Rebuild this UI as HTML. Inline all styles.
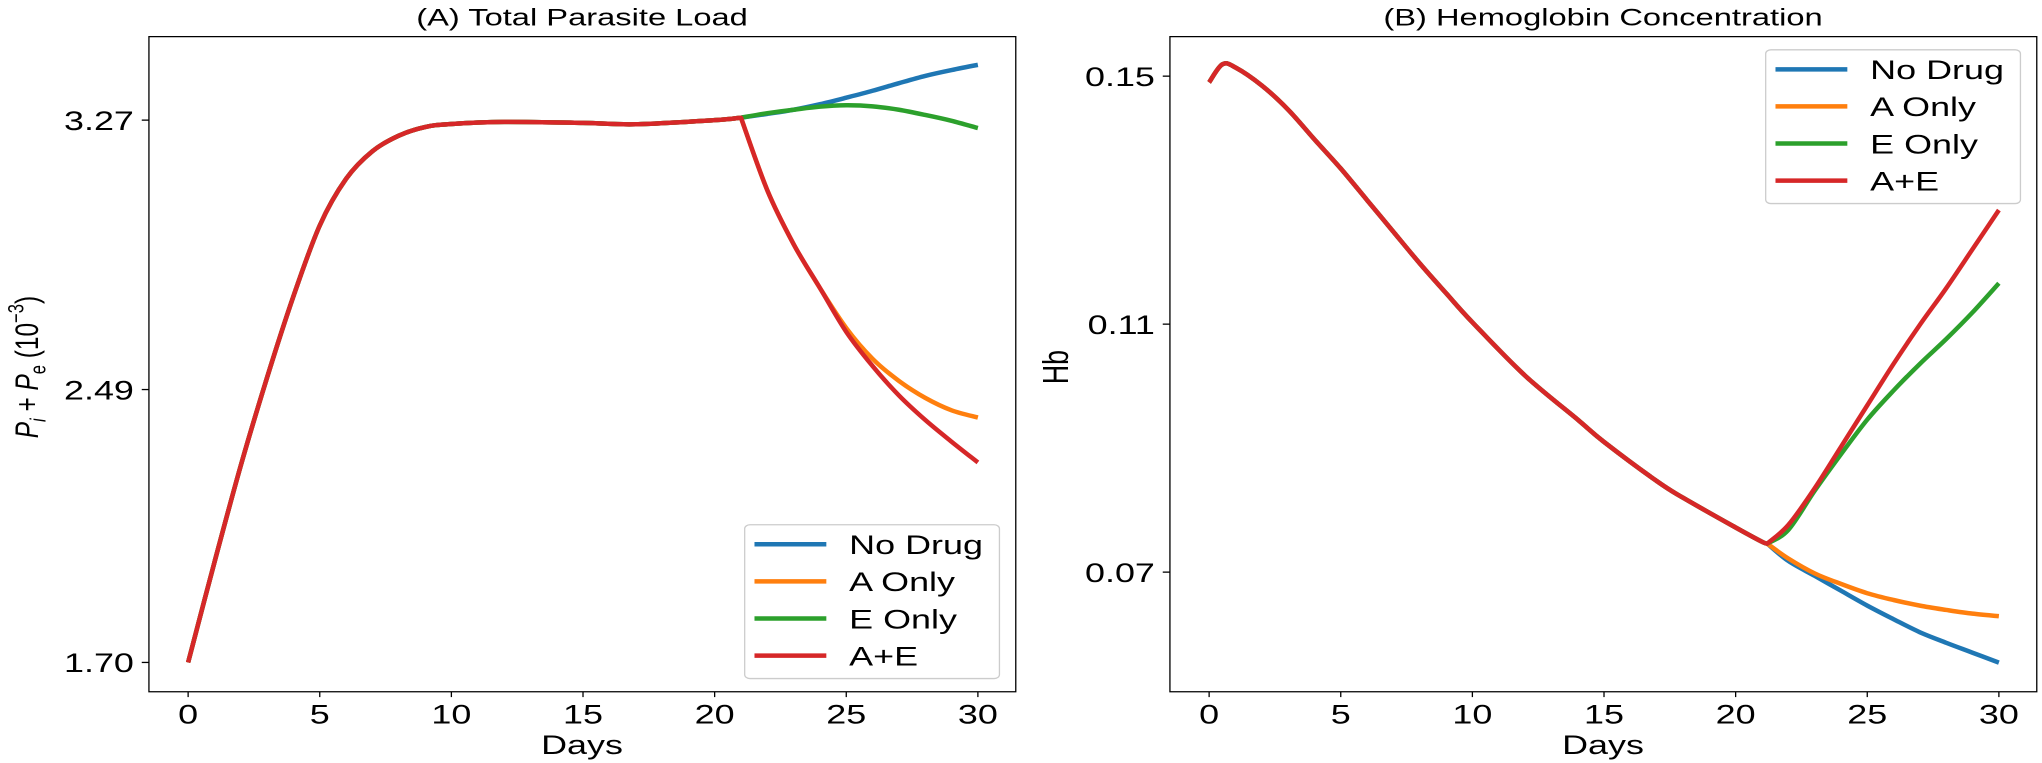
<!DOCTYPE html>
<html><head><meta charset="utf-8"><style>body{margin:0;background:#fff}svg{display:block}</style></head>
<body>
<svg id="fig" width="2042" height="763" viewBox="0 0 3126 1563" preserveAspectRatio="none" xmlns="http://www.w3.org/2000/svg" font-family="'Liberation Sans','DejaVu Sans',sans-serif"></svg>
<script>
const days=[0,1,2,3,4,5,6,7,8,9,10,12,15,17,20,21];
const loadCommon=[1.70,1.99,2.27,2.525,2.76,2.965,3.10,3.18,3.225,3.25,3.259,3.265,3.262,3.258,3.270,3.277];
const postDays=[21,22,23,24,25,26,27,28,29,30];
const loadNoDrug=[3.277,3.288,3.30,3.316,3.335,3.355,3.377,3.398,3.415,3.43];
const loadAOnly=[3.277,3.067,2.911,2.784,2.668,2.579,2.515,2.466,2.43,2.409];
const loadEOnly=[3.277,3.290,3.30,3.309,3.313,3.310,3.30,3.285,3.268,3.247];
const loadAE=[3.277,3.067,2.911,2.784,2.657,2.558,2.473,2.402,2.339,2.279];
const hbDays=[0,0.5,1,2,3,4,5,6,7,8,9,10,12,14,15,17,18,20,21,21.2];
const hbCommon=[0.149,0.1519,0.1514,0.1485,0.1446,0.1398,0.1351,0.130,0.1249,0.1198,0.115,0.1103,0.1017,0.0946,0.0910,0.0847,0.082,0.0772,0.0749,0.0746];
const hbPostDays=[21.2,22,23,24,25,26,27,28,29,30];
const hbNoDrug=[0.0746,0.0718,0.0694,0.0670,0.0646,0.0624,0.0603,0.0586,0.0570,0.0554];
const hbAOnly=[0.0746,0.0722,0.0698,0.0681,0.0666,0.0655,0.0646,0.0639,0.0633,0.0629];
const hbEOnly=[0.0746,0.0768,0.0831,0.089,0.0946,0.0993,0.1036,0.1076,0.1119,0.1166];
const hbAE=[0.0746,0.0776,0.0835,0.0902,0.0969,0.1036,0.1099,0.1158,0.1221,0.1284];
const xTicks=[0,5,10,15,20,25,30];
const loadTicks=[1.70,2.49,3.27];
const hbTicks=[0.07,0.11,0.15];
const names=['No Drug','A Only','E Only','A+E'];
const colors=['#1f77b4','#ff7f0e','#2ca02c','#d62728'];
const NS='http://www.w3.org/2000/svg';
const svg=document.getElementById('fig');
function mk(tag,attrs,parent){const e=document.createElementNS(NS,tag);for(const k in attrs)e.setAttribute(k,attrs[k]);(parent||svg).appendChild(e);return e;}
function smooth(P){let d='M'+P[0][0].toFixed(1)+','+P[0][1].toFixed(1);
  for(let i=0;i<P.length-1;i++){const p0=P[i-1]||P[i],p1=P[i],p2=P[i+1],p3=P[i+2]||P[i+1];
    const c1=[p1[0]+(p2[0]-p0[0])/6,p1[1]+(p2[1]-p0[1])/6],c2=[p2[0]-(p3[0]-p1[0])/6,p2[1]-(p3[1]-p1[1])/6];
    d+=' C'+c1.map(v=>v.toFixed(1))+' '+c2.map(v=>v.toFixed(1))+' '+p2.map(v=>v.toFixed(1));}
  return d;}
function panel(ox,title,ylabelFn,yFn,ticks,fmt,common,series,legY,pname){
  const g=mk('g',{});
  
  
  const xF=d=>ox+288+d*(1497-288)/30;
  const t=mk('text',{x:ox+891,y:52,'font-size':50,'text-anchor':'middle'},g);t.textContent=title;
  
  
  const cP=common.x.map((d,j)=>[xF(d),yFn(common.y[j])]);
  series.forEach((s,i)=>{
    const P=s.x.map((d,j)=>[xF(d),yFn(s.y[j])]);
    const p=mk('path',{d:smooth(cP)+' '+smooth(P).replace(/^M[^ ]+/,''),fill:'none',stroke:colors[i],'stroke-width':4.5,'vector-effect':'non-scaling-stroke','stroke-linejoin':'round'},g);
    
    
  });
  mk('rect',{x:ox+228,y:75,width:1327,height:1342,fill:'none',stroke:'#000','stroke-width':1.3,'vector-effect':'non-scaling-stroke'},g);
  xTicks.forEach(v=>{const x=xF(v);mk('line',{x1:x,x2:x,y1:1417,y2:1428,stroke:'#000','stroke-width':1.3,'vector-effect':'non-scaling-stroke'},g);
    const l=mk('text',{x:x,y:1482,'font-size':55,'text-anchor':'middle'},g);l.textContent=v;
    
    });
  ticks.forEach(v=>{const y=yFn(v);mk('line',{x1:ox+217,x2:ox+228,y1:y,y2:y,stroke:'#000','stroke-width':1.3,'vector-effect':'non-scaling-stroke'},g);
    const l=mk('text',{x:ox+205,y:y+20,'font-size':55,'text-anchor':'end'},g);l.textContent=fmt(v);
    
    });
  const xl=mk('text',{x:ox+891,y:1545,'font-size':55,'text-anchor':'middle'},g);xl.textContent='Days';
  
  
  ylabelFn(g,ox);
  const lg=mk('g',{},g);
  
  
  mk('rect',{x:ox+1140,y:legY,width:390,height:315,rx:8,fill:'#fff','fill-opacity':0.85,stroke:'#ccc','stroke-width':1.3,'vector-effect':'non-scaling-stroke'},lg);
  names.forEach((n,i)=>{const y=legY+40+i*76;
    mk('line',{x1:ox+1155,x2:ox+1265,y1:y,y2:y,stroke:colors[i],'stroke-width':4.5,'vector-effect':'non-scaling-stroke'},lg);
    const tx=mk('text',{x:ox+1300,y:y+20,'font-size':55},lg);tx.textContent=n;
    
    });
}
const yLoad=v=>1357-(v-1.70)*707.6;
const yHb=v=>156+(0.15-v)*12700;
panel(0,'(A) Total Parasite Load',(g,ox)=>{
  const t=mk('text',{transform:'translate(58,752) rotate(-90)','font-size':50,'text-anchor':'middle'},g);
  t.innerHTML='<tspan font-style="italic">P</tspan><tspan font-style="italic" font-size="34" dy="12">i</tspan><tspan dy="-12"> + </tspan><tspan font-style="italic">P</tspan><tspan font-size="34" dy="12">e</tspan><tspan dy="-12"> (10</tspan><tspan font-size="34" dy="-22">−3</tspan><tspan dy="22">)</tspan>';
  
  
},yLoad,loadTicks,v=>v.toFixed(2),{x:days,y:loadCommon},[
  {x:postDays,y:loadNoDrug},{x:postDays,y:loadAOnly},{x:postDays,y:loadEOnly},{x:postDays,y:loadAE}],1075,'panel-parasite-load');
panel(1563,'(B) Hemoglobin Concentration',(g,ox)=>{
  const t=mk('text',{transform:'translate('+(ox+72)+',752) rotate(-90)','font-size':55,'text-anchor':'middle'},g);
  t.textContent='Hb';
  
  
},yHb,hbTicks,v=>v.toFixed(2),{x:hbDays,y:hbCommon},[
  {x:hbPostDays,y:hbNoDrug},{x:hbPostDays,y:hbAOnly},{x:hbPostDays,y:hbEOnly},{x:hbPostDays,y:hbAE}],102,'panel-hemoglobin');
</script>
</body></html>
